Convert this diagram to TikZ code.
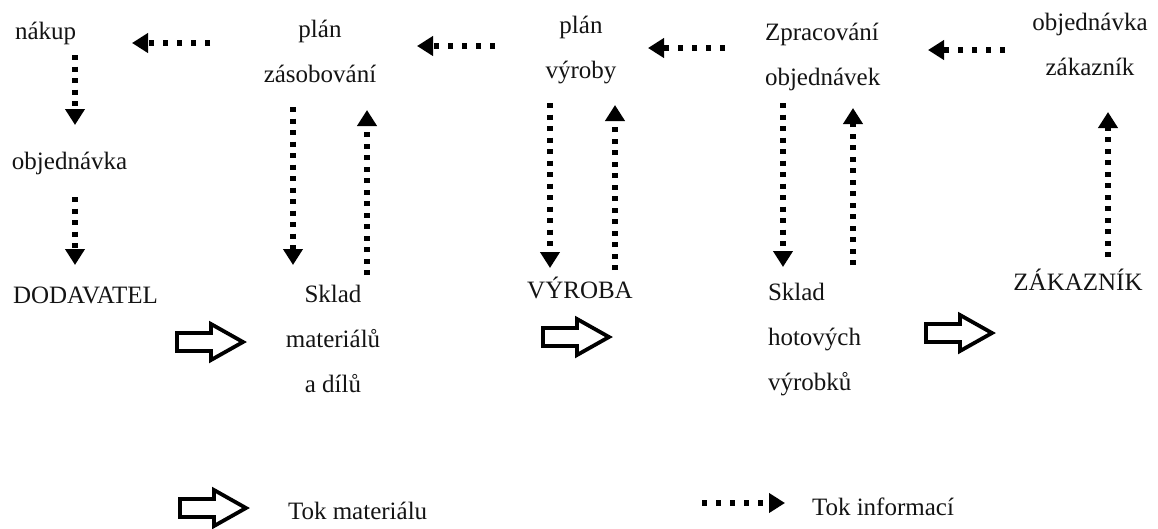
\documentclass[tikz,border=0pt]{standalone}
\usepackage{fontspec}
\setmainfont{Liberation Serif}
\usetikzlibrary{arrows.meta}
\tikzset{
  lbl/.style={inner sep=0pt, outer sep=0pt, font=\fontsize{25}{45}\selectfont, text=black!92},
  info/.style={line width=5.5pt, dash pattern=on 5pt off 6.5pt, -{Triangle[length=16pt,width=19pt]}},
  hinfo/.style={info, dash pattern=on 5pt off 9pt},
  matarrow/.pic={\draw[line width=3.8pt, miter limit=10] (-34,-9) -- (0,-9) -- (0,-18) -- (32,0) -- (0,18) -- (0,9) -- (-34,9) -- cycle;}
}
\begin{document}
\begin{tikzpicture}[x=1pt,y=-1pt]
\useasboundingbox[fill=white] (0,0) rectangle (1158,528);
% labels (multi-line nodes: base = last line)
\node[lbl, anchor=base west] (nakup) at (15,39) {nákup};
\node[lbl, anchor=base west] (obj) at (12,169) {objednávka};
\node[lbl, anchor=base west] (dod) at (13,303) {DODAVATEL};
\node[lbl, anchor=base, align=center] (planzas) at (320,82) {plán\\zásobování};
\node[lbl, anchor=base, align=center] (sklmat) at (333,392) {Sklad\\materiálů\\a dílů};
\node[lbl, anchor=base, align=center] (planvyr) at (581,78) {plán\\výroby};
\node[lbl, anchor=base] (vyroba) at (580,298) {VÝROBA};
\node[lbl, anchor=base west, align=left] (zprac) at (765,85) {Zpracování\\objednávek};
\node[lbl, anchor=base west, align=left] (sklhot) at (768,390) {Sklad\\hotových\\výrobků};
\node[lbl, anchor=base, align=center] (objzak) at (1090,75) {objednávka\\zákazník};
\node[lbl, anchor=base] (zak) at (1078,290) {ZÁKAZNÍK};
\node[lbl, anchor=base west] (tokmat) at (288,519) {Tok materiálu};
\node[lbl, anchor=base west] (tokinf) at (812,515) {Tok informací};
% information flow
\draw[hinfo] (210,43) -- (132,43);
\draw[info] (75,55) -- (75,125);
\draw[info] (75,197) -- (75,265);
\draw[info] (293,107) -- (293,265);
\draw[info] (367,275) -- (367,110);
\draw[hinfo] (495,46) -- (417,46);
\draw[info] (550,103) -- (550,268);
\draw[info] (615,270) -- (615,105);
\draw[hinfo] (725,48) -- (648,48);
\draw[info] (783,103) -- (783,267);
\draw[info] (853,265) -- (853,108);
\draw[hinfo] (1005,50) -- (928,50);
\draw[info] (1108,257) -- (1108,112);
\draw[hinfo] (702,503) -- (785,503);
% material flow
\pic at (211,342) {matarrow};
\pic at (577,337) {matarrow};
\pic at (960,333) {matarrow};
\pic at (214,508) {matarrow};
\end{tikzpicture}
\end{document}
